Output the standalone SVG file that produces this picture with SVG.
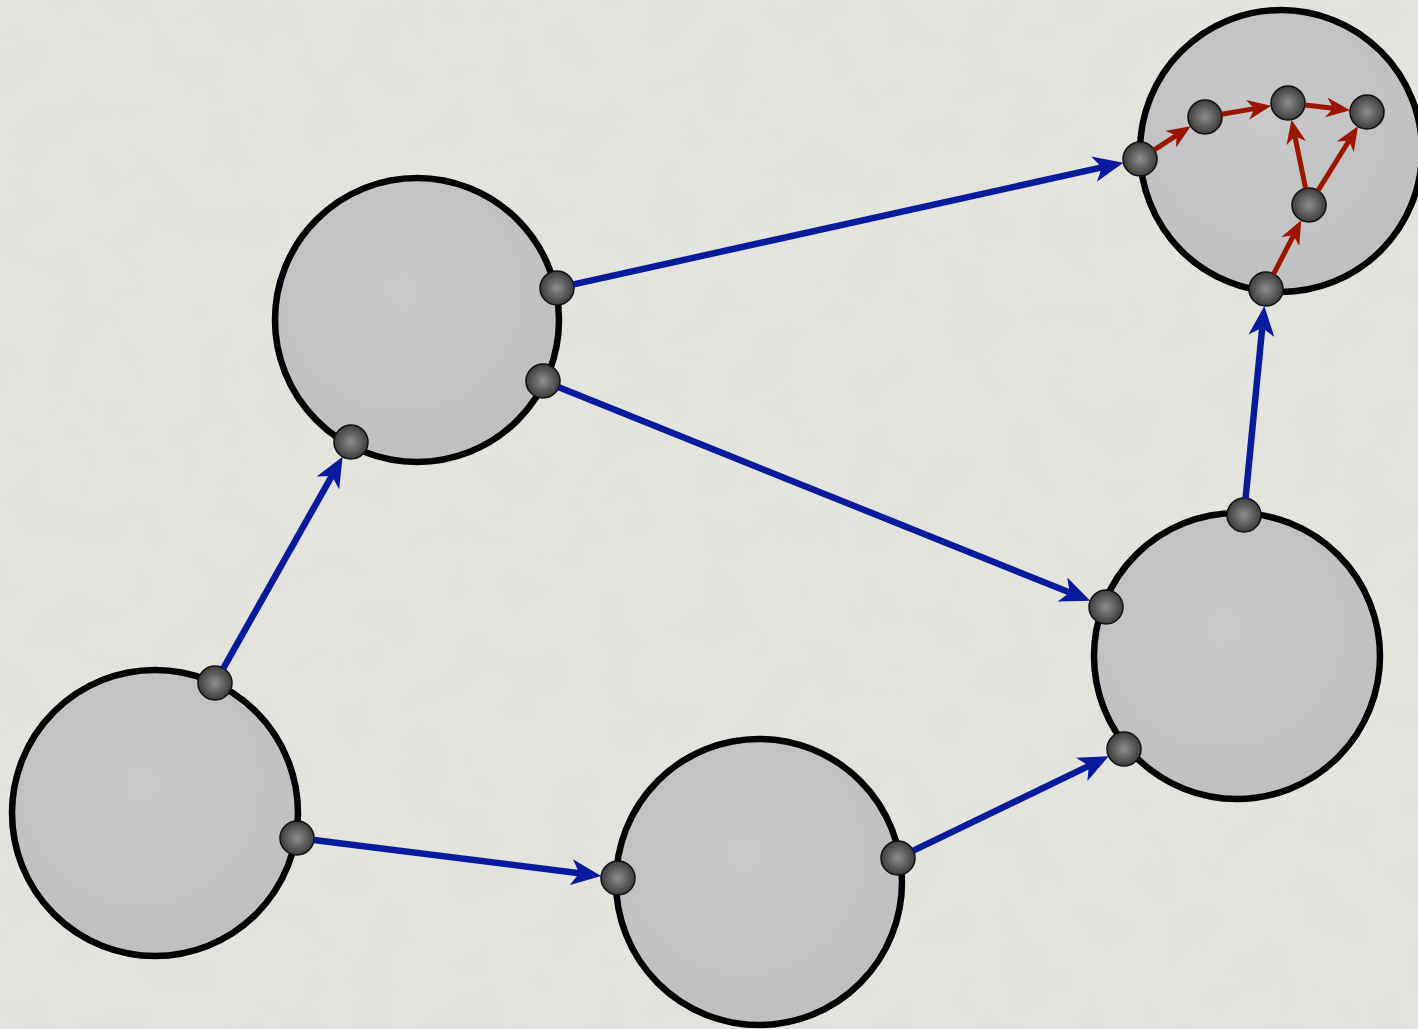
<svg xmlns="http://www.w3.org/2000/svg" width="1418" height="1029" viewBox="0 0 1418 1029">
<defs>
<filter id="tex" x="0" y="0" width="100%" height="100%">
<feTurbulence type="fractalNoise" baseFrequency="0.02" numOctaves="3" seed="3" result="n"/>
<feColorMatrix in="n" type="matrix" values="0 0 0 0 0.5  0 0 0 0 0.5  0 0 0 0 0.5  0 0 0 0.08 0" result="m"/>
<feComposite in="m" in2="SourceGraphic" operator="over"/>
</filter>
<radialGradient id="nodeFill" cx="0.45" cy="0.4" r="0.65">
<stop offset="0" stop-color="#c6c8ca"/>
<stop offset="1" stop-color="#bdbfc1"/>
</radialGradient>
<radialGradient id="portFill" cx="0.5" cy="0.5" r="0.5">
<stop offset="0" stop-color="#8e8e8e"/>
<stop offset="1" stop-color="#3c3c3c"/>
</radialGradient>
<marker id="blueArrow" markerUnits="userSpaceOnUse" viewBox="0 0 30 26" refX="8" refY="13" markerWidth="30" markerHeight="26" orient="auto">
<path d="M0,0 L30,13 L0,26 L8,13 Z" fill="#0a1a9c"/>
</marker>
<marker id="redArrow" markerUnits="userSpaceOnUse" viewBox="0 0 24 20" refX="7" refY="10" markerWidth="24" markerHeight="20" orient="auto">
<path d="M0,0 L24,10 L0,20 L7,10 Z" fill="#9b1500"/>
</marker>
</defs>
<style>
.node{fill:url(#nodeFill);stroke:#000;stroke-width:6.5}
.port{fill:url(#portFill);stroke:#111;stroke-width:1.5}
.blue{stroke:#0a1a9c;stroke-width:6.5;fill:none;marker-end:url(#blueArrow)}
.red{stroke:#9b1500;stroke-width:5;fill:none;marker-end:url(#redArrow)}
</style>
<rect width="1418" height="1029" fill="#e5e5e0" filter="url(#tex)"/>
<g id="node-a">
<circle class="node" cx="417" cy="320" r="142"/>
<circle class="port" cx="557" cy="288" r="17"/>
<circle class="port" cx="543" cy="381" r="17"/>
<circle class="port" cx="351" cy="442" r="17"/>
</g>
<g id="node-b">
<circle class="node" cx="155" cy="813" r="143"/>
<circle class="port" cx="215" cy="683" r="17"/>
<circle class="port" cx="297" cy="838" r="17"/>
</g>
<g id="node-c">
<circle class="node" cx="759" cy="882" r="143"/>
<circle class="port" cx="618" cy="878" r="17"/>
<circle class="port" cx="898" cy="858" r="17"/>
</g>
<g id="node-d">
<circle class="node" cx="1237" cy="656" r="143"/>
<circle class="port" cx="1244" cy="515" r="17"/>
<circle class="port" cx="1106" cy="607" r="17"/>
<circle class="port" cx="1124" cy="749" r="17"/>
</g>
<g id="node-e">
<circle class="node" cx="1281" cy="151" r="141"/>
<circle class="port" cx="1140" cy="159" r="17"/>
<circle class="port" cx="1266" cy="289" r="17"/>
<circle class="port" cx="1205" cy="117" r="17"/>
<circle class="port" cx="1288" cy="103" r="17"/>
<circle class="port" cx="1367" cy="112" r="17"/>
<circle class="port" cx="1309" cy="205" r="17"/>
</g>
<g id="connectors">
<line class="blue" x1="223.4" y1="668.2" x2="331.8" y2="476.0"/>
<line class="blue" x1="313.9" y1="840.1" x2="579.3" y2="873.2"/>
<line class="blue" x1="573.6" y1="284.3" x2="1101.9" y2="167.4"/>
<line class="blue" x1="558.8" y1="387.3" x2="1069.8" y2="592.5"/>
<line class="blue" x1="913.3" y1="850.6" x2="1088.9" y2="765.9"/>
<line class="blue" x1="1245.6" y1="498.1" x2="1262.2" y2="327.8"/>
<line class="red" x1="1154.3" y1="149.8" x2="1176.5" y2="135.4"/>
<line class="red" x1="1221.8" y1="114.2" x2="1254.4" y2="108.6"/>
<line class="red" x1="1304.9" y1="104.9" x2="1333.2" y2="108.2"/>
<line class="red" x1="1305.6" y1="188.3" x2="1294.9" y2="136.3"/>
<line class="red" x1="1318.0" y1="190.6" x2="1349.0" y2="140.8"/>
<line class="red" x1="1273.7" y1="273.9" x2="1293.5" y2="235.3"/>
</g>
</svg>
